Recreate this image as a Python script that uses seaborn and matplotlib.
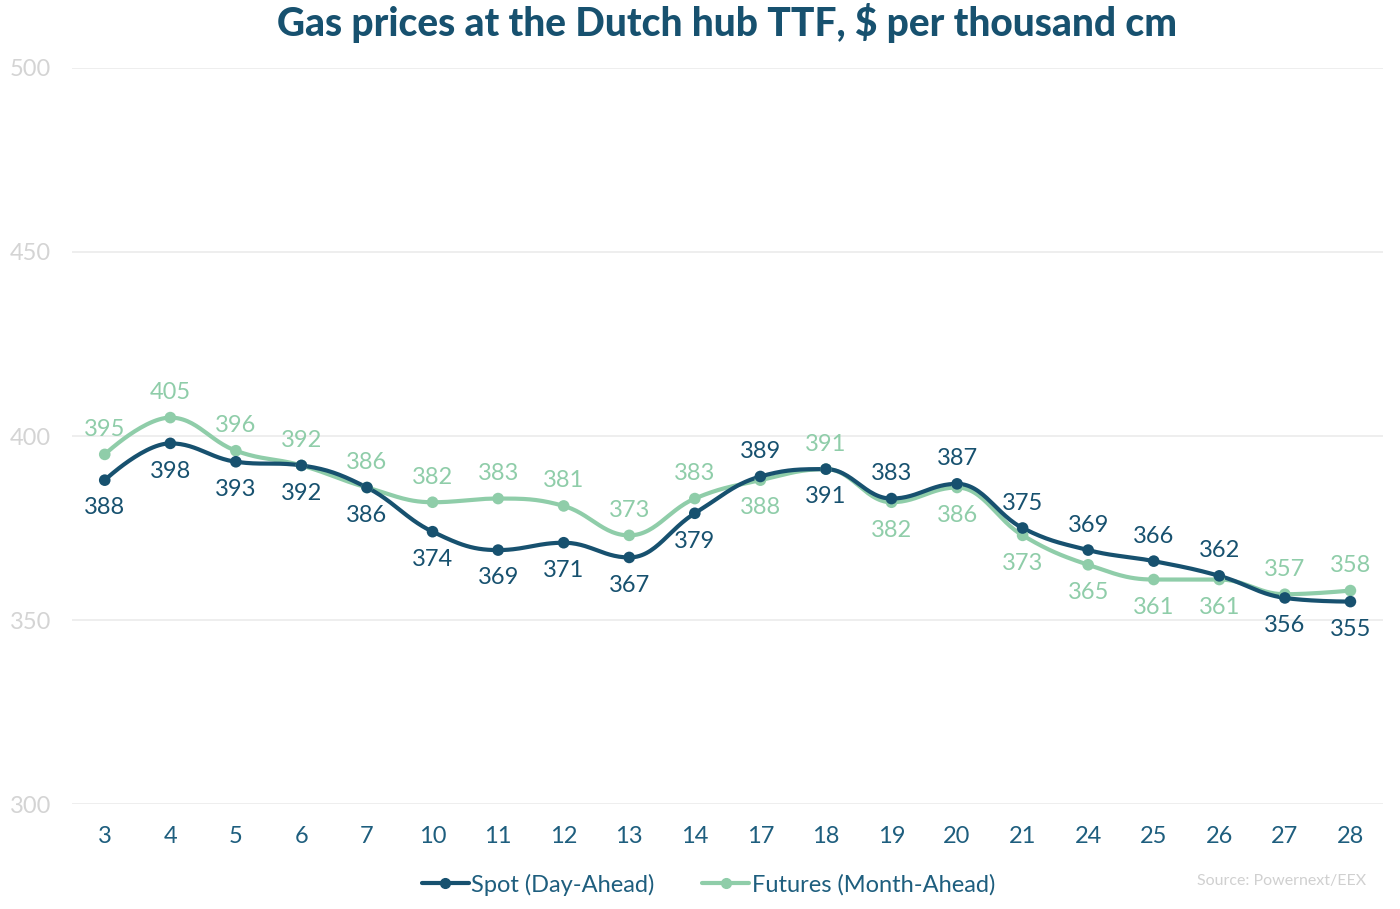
"""Gas prices at the Dutch hub TTF, $ per thousand cm"""
import numpy as np
import pandas as pd
import matplotlib
matplotlib.use("Agg")
import matplotlib.pyplot as plt
import seaborn as sns

days = ["3", "4", "5", "6", "7", "10", "11", "12", "13", "14",
        "17", "18", "19", "20", "21", "24", "25", "26", "27", "28"]
spot = [388, 398, 393, 392, 386, 374, 369, 371, 367, 379,
        389, 391, 383, 387, 375, 369, 366, 362, 356, 355]
futures = [395, 405, 396, 392, 386, 382, 383, 381, 373, 383,
           388, 391, 382, 386, 373, 365, 361, 361, 357, 358]

# label placement: 1 = above the point, -1 = below
spot_side = [-1, -1, -1, -1, -1, -1, -1, -1, -1, -1,
             1, -1, 1, 1, 1, 1, 1, 1, -1, -1]
fut_side = [1, 1, 1, 1, 1, 1, 1, 1, 1, 1,
            -1, 1, -1, -1, -1, -1, -1, -1, 1, 1]

SPOT_C = "#17516F"
FUT_C = "#8FCDA9"
GRID_C = "#EBEBEB"


def spline(xs, ys, smoothing=1.5, n=30):
    """Highcharts-style spline through the points."""
    xs = np.asarray(xs, float)
    ys = np.asarray(ys, float)
    k = len(xs)
    left = np.zeros((k, 2))
    right = np.zeros((k, 2))
    denom = smoothing + 1
    for i in range(k):
        px, py = xs[i], ys[i]
        if i == 0 or i == k - 1:
            left[i] = right[i] = (px, py)
            continue
        lx, ly = xs[i - 1], ys[i - 1]
        nx, ny = xs[i + 1], ys[i + 1]
        lcx = (smoothing * px + lx) / denom
        lcy = (smoothing * py + ly) / denom
        rcx = (smoothing * px + nx) / denom
        rcy = (smoothing * py + ny) / denom
        corr = (rcy - lcy) * (rcx - px) / (rcx - lcx) + py - rcy
        lcy += corr
        rcy += corr
        if lcy > ly and lcy > py:
            lcy = max(ly, py)
            rcy = 2 * py - lcy
        elif lcy < ly and lcy < py:
            lcy = min(ly, py)
            rcy = 2 * py - lcy
        if rcy > ny and rcy > py:
            rcy = max(ny, py)
            lcy = 2 * py - rcy
        elif rcy < ny and rcy < py:
            rcy = min(ny, py)
            lcy = 2 * py - rcy
        left[i] = (lcx, lcy)
        right[i] = (rcx, rcy)
    t = np.linspace(0, 1, n)[:, None]
    out = []
    for i in range(1, k):
        p0 = np.array([xs[i - 1], ys[i - 1]])
        p1 = right[i - 1]
        p2 = left[i]
        p3 = np.array([xs[i], ys[i]])
        seg = ((1 - t) ** 3 * p0 + 3 * (1 - t) ** 2 * t * p1
               + 3 * (1 - t) * t ** 2 * p2 + t ** 3 * p3)
        out.append(seg if i == 1 else seg[1:])
    out = np.vstack(out)
    return out[:, 0], out[:, 1]


sns.set_style("white")
plt.rcParams["font.family"] = ["Lato", "DejaVu Sans"]

fig = plt.figure(figsize=(14, 9.09), dpi=100)
ax = fig.add_axes([0.0514, 0.1155, 0.9366, 0.8097])

pos = np.arange(len(days))
series = [("Spot (Day-Ahead)", spot, SPOT_C, spot_side),
          ("Futures (Month-Ahead)", futures, FUT_C, fut_side)]

# futures drawn first so spot sits above it where they meet
for name, vals, color, side in reversed(series):
    sx, sy = spline(pos, vals)
    curve = pd.DataFrame({"x": sx, "y": sy})
    sns.lineplot(data=curve, x="x", y="y", color=color, lw=3, sort=False,
                 ax=ax, zorder=3)
    pts = pd.DataFrame({"x": pos, "y": vals})
    sns.scatterplot(data=pts, x="x", y="y", color=color, s=70,
                    edgecolor="none", ax=ax, zorder=4)
    for x, v, s in zip(pos, vals, side):
        dy = 20 if s < 0 else 18
        ax.annotate(f"{v}", (x, v), xytext=(0, dy * s), textcoords="offset points",
                    ha="center", va="center", fontsize=17, color=color, zorder=5)

ax.set_xlim(-0.5, len(days) - 0.5)
ax.set_ylim(300, 500)
ax.set_yticks([300, 350, 400, 450, 500])
ax.set_xticks(pos)
ax.set_xticklabels(days)
ax.set_xlabel("")
ax.set_ylabel("")
ax.grid(axis="y", color=GRID_C, lw=1.2)
ax.set_axisbelow(True)
for sp in ax.spines.values():
    sp.set_visible(False)
ax.tick_params(axis="x", colors="#1E5E7E", labelsize=17, length=0, pad=16)
ax.tick_params(axis="y", colors="#D4D4D4", labelsize=17, length=0, pad=15)

fig.suptitle("Gas prices at the Dutch hub TTF, $ per thousand cm",
             x=0.519, y=0.975, fontsize=28, fontweight="black", color="#17516F",
             va="center")

handles = [plt.Line2D([], [], color=c, lw=3, marker="o", markersize=7)
           for _, _, c, _ in series]
leg = fig.legend(handles, [s[0] for s in series], loc="center",
                 bbox_to_anchor=(0.506, 0.027), ncol=2, frameon=False,
                 fontsize=17, handlelength=2.0, handletextpad=0.1,
                 columnspacing=2.0)
for t in leg.get_texts():
    t.set_color("#1E5E7E")

fig.text(0.976, 0.031, "Source: Powernext/EEX", ha="right", va="center",
         fontsize=11.5, color="#D0D0D0")

fig.savefig("out.png", dpi=100)
